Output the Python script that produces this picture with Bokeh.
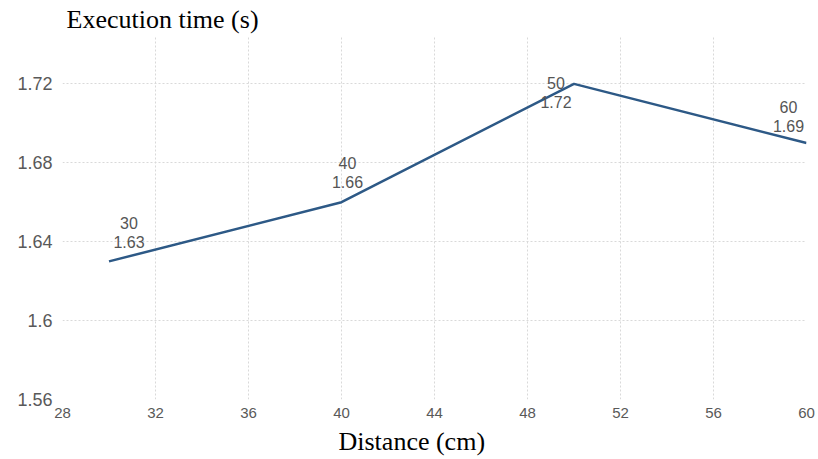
from bokeh.plotting import figure
from bokeh.models import FixedTicker, Title, ColumnDataSource, Range1d
from bokeh.embed import file_html
from bokeh.resources import INLINE
from bokeh.core.properties import value

# data
distance = [30, 40, 50, 60]
exec_time = [1.63, 1.66, 1.72, 1.69]
x_ticks = [28, 32, 36, 40, 44, 48, 52, 56, 60]
y_ticks = [1.56, 1.60, 1.64, 1.68, 1.72]
y_tick_labels = ["1.56", "1.6", "1.64", "1.68", "1.72"]

# label offsets (pixels) for the point annotations
lab_dx = [20, 6, -18, -18]
lab_dy = [-38, -39, -1, -36]

p = figure(width=818, height=459, output_backend="svg", toolbar_location=None,
           x_range=Range1d(28, 60), y_range=Range1d(1.56, 1.744),
           min_border_left=62, min_border_right=12, min_border_top=10, min_border_bottom=5)
p.outline_line_color = None

src = ColumnDataSource(dict(
    x=distance, y=exec_time,
    xl=[str(d) for d in distance], yl=[f"{t:.2f}" for t in exec_time],
    dx=lab_dx, dy=lab_dy, dy2=[d + 19 for d in lab_dy],
))

p.line("x", "y", source=src, line_color="#2d5986", line_width=2.5)
p.text("x", "y", text="xl", source=src, x_offset="dx", y_offset="dy",
       text_align="center", text_baseline="middle", text_font=value("Liberation Sans"),
       text_font_size="16px", text_color="#555555")
p.text("x", "y", text="yl", source=src, x_offset="dx", y_offset="dy2",
       text_align="center", text_baseline="middle", text_font=value("Liberation Sans"),
       text_font_size="16px", text_color="#555555")

for ax in (p.xaxis[0], p.yaxis[0]):
    ax.axis_line_color = None
    ax.major_tick_line_color = None
    ax.minor_tick_line_color = None
    ax.major_label_text_color = "#595959"
    ax.major_label_text_font = "Liberation Sans"

p.xaxis.ticker = FixedTicker(ticks=x_ticks)
p.yaxis.ticker = FixedTicker(ticks=y_ticks)
p.yaxis.major_label_overrides = {t: l for t, l in zip(y_ticks, y_tick_labels)}
p.xaxis.major_label_text_font_size = "15px"
p.yaxis.major_label_text_font_size = "18px"
p.xaxis.major_label_standoff = 2
p.yaxis.major_label_standoff = 4

for g in (p.xgrid[0], p.ygrid[0]):
    g.grid_line_color = "#d9d9d9"
    g.grid_line_dash = "2 2"
    g.grid_line_width = 1

p.add_layout(Title(text="Execution time (s)", align="left", offset=4, standoff=5,
                   text_font="Liberation Serif", text_font_size="26px",
                   text_font_style="normal", text_color="#000000"), "above")
p.add_layout(Title(text="Distance (cm)", align="left", offset=276, standoff=8,
                   text_font="Liberation Serif", text_font_size="26px",
                   text_font_style="normal", text_color="#000000"), "below")

open("out.html", "w").write(file_html(p, INLINE))
